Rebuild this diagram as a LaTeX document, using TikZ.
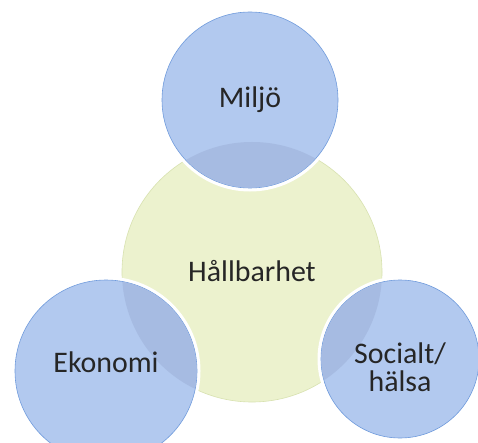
\documentclass[tikz,border=0pt]{standalone}
\usepackage{fontspec}
\setmainfont{Carlito}
\usepackage{xcolor}
\usetikzlibrary{positioning}

\definecolor{ringblue}{RGB}{112,155,220}
\definecolor{fillblue}{RGB}{178,201,239}
\definecolor{darkblue}{RGB}{166,187,226}
\definecolor{fillgreen}{RGB}{236,242,206}
\definecolor{edgegreen}{RGB}{216,226,176}

\tikzset{
    pillar/.style={circle, fill=fillblue, draw=ringblue, line width=0.6bp, inner sep=0pt,
        preaction={draw=white, line width=7bp}},
    core/.style={circle, fill=fillgreen, draw=edgegreen, line width=0.6bp, inner sep=0pt},
    lbl/.style={font=\fontsize{30}{28}\selectfont, text=black!85, align=center}
}

\begin{document}
\begin{tikzpicture}[x=1bp, y=-1bp]
    \clip (0,0) rectangle (478,443);
    \useasboundingbox (0,0) rectangle (478,443);
    \fill[white] (0,0) rectangle (478,443);

    % Centre
    \node[core, minimum size=260bp] (hall) at (252,272) {};

    % Pillars
    \node[pillar, minimum size=176bp] (miljo) at (250,100) {};
    \node[pillar, minimum size=182bp] (ekonomi) at (106,371) {};
    \node[pillar, minimum size=158bp] (social) at (400,359) {};

    % Overlaps
    \begin{scope}
        \clip (hall.center) circle[radius=130bp];
        \fill[darkblue] (miljo.center) circle[radius=87.7bp];
        \fill[darkblue] (ekonomi.center) circle[radius=90.7bp];
        \fill[darkblue] (social.center) circle[radius=78.7bp];
    \end{scope}

    % Labels
    \node[lbl] (hallt) at ([yshift=1bp]hall.center) {Hållbarhet};
    \node[lbl] (miljot) at (miljo.center) {Miljö};
    \node[lbl] (ekonomit) at ([yshift=9bp]ekonomi.center) {Ekonomi};
    \node[lbl] (socialt) at ([yshift=-8bp]social.center) {Socialt/\\hälsa};
\end{tikzpicture}
\end{document}
